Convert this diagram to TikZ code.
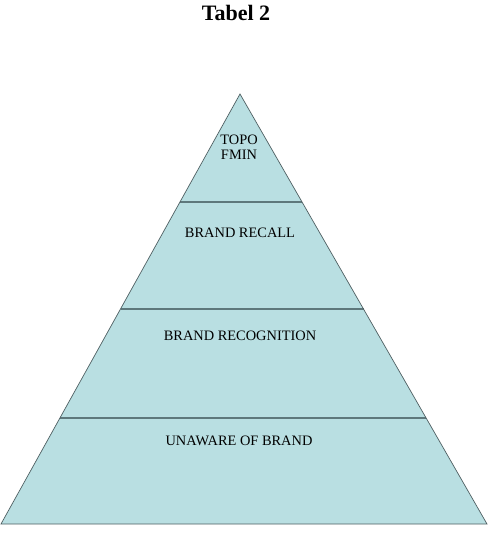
\documentclass[tikz,border=0pt]{standalone}
\usepackage{fontspec}
\setmainfont{Liberation Serif}
\definecolor{pyrfill}{HTML}{B9DFE2}
\definecolor{pyredge}{HTML}{4F5F62}
\definecolor{pyrline}{HTML}{5E787C}
\begin{document}
\begin{tikzpicture}[x=1pt,y=-1pt,
  layertext/.style={font=\fontsize{14.4}{15.5}\selectfont, text=black, inner sep=0pt, align=center},
  sepline/.style={draw=pyrline, line width=1.4pt}]
\useasboundingbox (0,0) rectangle (495,533);
\node[font=\fontsize{22}{26}\selectfont\bfseries, inner sep=0pt] (title) at (236,13) {Tabel 2};
\coordinate (apex) at (240,94);
\coordinate (bl) at (1,524);
\coordinate (br) at (487,524);
\fill[pyrfill] (apex) -- (br) -- (bl) -- cycle;
% separators
\path (apex) -- (bl) coordinate[pos=0.2512] (l1) coordinate[pos=0.5] (l2) coordinate[pos=0.7535] (l3);
\path (apex) -- (br) coordinate[pos=0.2512] (r1) coordinate[pos=0.5] (r2) coordinate[pos=0.7535] (r3);
\draw[sepline] (l1) -- (r1);
\draw[sepline] (l2) -- (r2);
\draw[sepline] (l3) -- (r3);
\draw[draw=pyredge, line width=0.7pt, line join=miter] (apex) -- (br) -- (bl) -- cycle;
\node[layertext] (top) at (239,147) {TOPO\\FMIN};
\node[layertext] (recall) at (240,233) {BRAND RECALL};
\node[layertext] (recog) at (240,336) {BRAND RECOGNITION};
\node[layertext] (unaware) at (239,441) {UNAWARE OF BRAND};
\end{tikzpicture}
\end{document}
